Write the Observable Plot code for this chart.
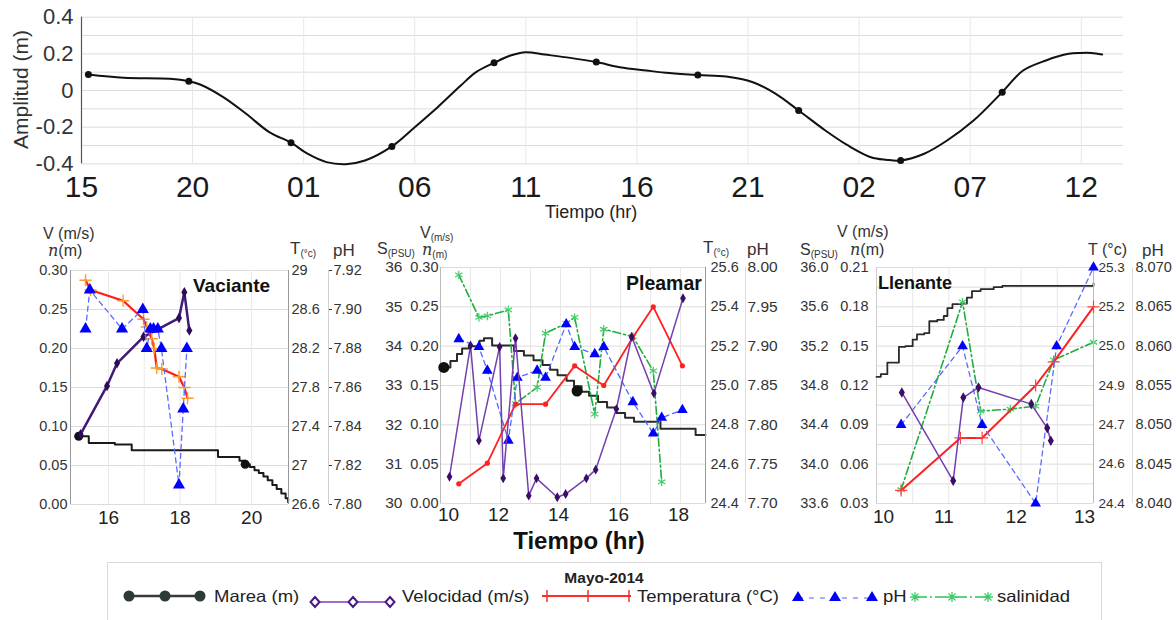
<!DOCTYPE html>
<html><head><meta charset="utf-8">
<script src="https://cdn.jsdelivr.net/npm/d3@7"></script>
<script src="https://cdn.jsdelivr.net/npm/@observablehq/plot@0.6"></script>
<style>
body{margin:0;background:#fff;font-family:"Liberation Sans",Arial,Helvetica,sans-serif;}
#root{position:relative;width:1176px;height:620px;overflow:hidden;background:#fff;}
.t{position:absolute;white-space:nowrap;line-height:1;color:#333;}
.t sub{font-size:10px;vertical-align:-3px;line-height:0;}
.serif{font-family:"DejaVu Serif","Liberation Serif",serif;font-style:italic;}
</style></head><body><div id="root"></div>
<script>
// ---------------- DATA ----------------
// Top panel: tide amplitude (hours since 15:00)
const tideTickHours = [0,5,10,15,20,25,30,35,40,45];
const tideHourLabels = ["15","20","01","06","11","16","21","02","07","12"];
const ampTicks = [-0.4,-0.2,0,0.2,0.4];
const ampGrid = [-0.4,-0.3,-0.2,-0.1,0,0.1,0.2,0.3,0.4];
const tideT = [0.31,1.9,3.97,4.83,5.34,6.38,7.41,8.45,9.43,10.17,11.03,11.9,12.76,13.97,15.0,16.03,17.07,17.76,18.57,19.31,20.0,20.86,22.0,23.17,24.23,25.43,26.46,27.74,29.02,30.22,31.25,32.28,33.48,34.5,35.53,36.22,36.87,37.93,38.96,40.15,41.44,42.38,43.41,44.43,44.95,45.46,45.94];
const tideV = [0.087,0.069,0.064,0.051,0.033,-0.036,-0.127,-0.227,-0.285,-0.345,-0.391,-0.402,-0.382,-0.305,-0.2,-0.091,0.027,0.1,0.151,0.191,0.209,0.196,0.178,0.155,0.127,0.109,0.095,0.084,0.076,0.045,-0.018,-0.109,-0.218,-0.3,-0.364,-0.378,-0.382,-0.345,-0.273,-0.164,-0.009,0.109,0.164,0.2,0.205,0.205,0.196];
const tideDotT = [0.31,4.83,9.43,13.97,18.57,23.17,27.74,32.28,36.87,41.44];
const tideDotV = [0.087,0.051,-0.285,-0.305,0.151,0.155,0.084,-0.109,-0.382,-0.009];

// Panel 1: Vaciante
const vacXTicks = [16,18,20];
const vacXGrid = [16,17,18,19,20];
const vacVTicks = [0,0.05,0.10,0.15,0.20,0.25,0.30];
const vacTTicks = [26.6,27.0,27.4,27.8,28.2,28.6,29.0];
const vacTLabels = ["26.6","27","27.4","27.8","28.2","28.6","29"];
const vacPhTicks = [7.80,7.82,7.84,7.86,7.88,7.90,7.92];
const vacMareaT = [15.17,15.45,16.18,16.65,19.06,19.66,19.82,19.95,20.08,20.2,20.33,20.45,20.58,20.7,20.83,20.95,21.02];
const vacMareaV = [0.0875,0.079,0.077,0.0696,0.061,0.056,0.0516,0.048,0.044,0.0405,0.036,0.031,0.025,0.02,0.014,0.008,0.003];
const vacMareaDotT = [15.17,19.82];
const vacMareaDotV = [0.0875,0.0516];
const vacVelT = [15.22,15.96,16.24,16.98,17.97,18.12,18.26];
const vacVelV = [0.090,0.152,0.181,0.215,0.239,0.272,0.223];
const vacTempT = [15.36,15.5,16.41,16.98,17.07,17.21,17.28,17.35,17.49,17.97,18.12,18.21];
const vacTempV = [28.9,28.8,28.69,28.5,28.42,28.3,28.2,28.0,27.99,27.91,27.8,27.69];
const vacPhT = [15.36,15.48,16.38,16.96,17.07,17.17,17.26,17.38,17.48,17.97,18.09,18.19];
const vacPhV = [7.89,7.91,7.89,7.90,7.88,7.89,7.89,7.89,7.88,7.81,7.849,7.88];

// Panel 2: Pleamar
const pleXTicks = [10,12,14,16,18];
const pleXGrid = [10,11,12,13,14,15,16,17,18];
const pleVTicks = [0,0.05,0.10,0.15,0.20,0.25,0.30];
const pleSTicks = [30,31,32,33,34,35,36];
const pleTTicks = [24.4,24.6,24.8,25.0,25.2,25.4,25.6];
const plePhTicks = [7.70,7.75,7.80,7.85,7.90,7.95,8.00];
const pleMareaT = [10.11,10.33,10.55,10.72,10.95,11.3,11.45,11.72,12.45,12.78,13.1,13.4,13.65,13.9,14.2,14.45,14.7,14.95,15.25,15.55,15.85,16.15,16.45,17.33,18.5,18.83];
const pleMareaV = [0.173,0.181,0.19,0.197,0.2,0.207,0.21,0.201,0.194,0.188,0.182,0.176,0.17,0.163,0.156,0.149,0.142,0.137,0.129,0.122,0.115,0.109,0.104,0.095,0.087,0.087];
const pleMareaDotT = [10.11,14.55];
const pleMareaDotV = [0.173,0.143];
const pleVelT = [10.3,11.0,11.28,11.97,12.09,12.5,12.94,13.2,13.89,14.17,14.86,15.17,15.86,16.37,17.11,18.08];
const pleVelV = [0.034,0.201,0.080,0.199,0.032,0.210,0.010,0.032,0.008,0.012,0.032,0.043,0.12,0.212,0.14,0.261];
const pleTempT = [10.61,11.56,12.5,13.5,14.47,15.44,16.39,17.09,18.06];
const pleTempV = [24.50,24.605,24.905,24.905,25.10,25.0,25.24,25.40,25.10];
const plePhT = [10.61,11.28,11.56,12.26,12.56,13.22,13.5,14.19,14.47,15.14,15.44,16.41,17.09,17.37,18.06];
const plePhV = [7.909,7.899,7.869,7.78,7.86,7.869,7.86,7.928,7.899,7.89,7.899,7.829,7.789,7.809,7.819];
const pleSalT = [10.61,11.28,11.56,12.26,12.5,13.22,13.5,14.19,14.47,15.14,15.44,16.41,17.09,17.37];
const pleSalV = [35.81,34.73,34.77,34.92,32.54,32.95,34.33,34.58,34.73,32.27,34.43,34.24,33.37,30.55];

// Panel 3: Llenante
const lleXTicks = [10,11,12,13];
const lleXGrid = [10,10.5,11,11.5,12,12.5,13];
const lleVTicks = [0.03,0.06,0.09,0.12,0.15,0.18,0.21];
const lleVGrid = [0.03,0.045,0.06,0.075,0.09,0.105,0.12,0.135,0.15,0.165,0.18,0.195,0.21];
const lleSTicks = [33.6,34.0,34.4,34.8,35.2,35.6,36.0];
const lleTTicks = [24.4,24.55,24.7,24.85,25.0,25.15,25.3];
const lleTLabels = ["24.4","24.6","24.7","24.9","25.0","25.2","25.3"];
const llePhTicks = [8.040,8.045,8.050,8.055,8.060,8.065,8.070];
const lleMareaT = [10,10.06,10.15,10.31,10.4,10.5,10.56,10.66,10.73,10.84,10.93,10.98,11.05,11.16,11.25,11.32,11.44,11.62,11.74,13.0];
const lleMareaV = [0.1266,0.1286,0.1375,0.1495,0.15,0.155,0.159,0.16,0.169,0.17,0.173,0.179,0.182,0.1825,0.187,0.192,0.1935,0.195,0.196,0.198];
const lleVelT = [10.35,11.06,11.2,11.41,12.14,12.36,12.41];
const lleVelV = [0.1147,0.0473,0.1108,0.1185,0.1058,0.0875,0.0778];
const lleTempT = [10.34,11.16,11.46,12.2,12.45,13.0];
const lleTempV = [24.45,24.65,24.65,24.85,24.94,25.15];
const llePhT = [10.34,11.19,11.46,12.2,12.49,13.0];
const llePhV = [8.050,8.060,8.050,8.040,8.060,8.070];
const lleSalT = [10.34,11.19,11.44,11.85,12.2,12.45,13.0];
const lleSalV = [33.74,35.65,34.54,34.56,34.59,35.06,35.24];

// ---------------- HELPERS ----------------
const W = 1176, H = 620;
const FONT = '"Liberation Sans", Arial, Helvetica, sans-serif';
const root = document.getElementById("root");
const zip = (T, V) => T.map((t, i) => ({t, v: V[i]}));
const fmtFrom = (ticks, labels) => d => { const i = ticks.findIndex(x => Math.abs(x - d) < 1e-9); return i < 0 ? "" : labels[i]; };
const fix = n => d => d.toFixed(n);

function layer(frame, xDomain, yDomain, marks) {
  const [L, R, T, B] = frame;
  const svg = Plot.plot({
    width: W, height: H,
    marginLeft: L, marginRight: W - R, marginTop: T, marginBottom: H - B,
    x: {domain: xDomain, axis: null},
    y: {domain: yDomain, axis: null},
    style: {background: "transparent", fontFamily: FONT, overflow: "visible"},
    marks
  });
  svg.style.position = "absolute"; svg.style.left = "0px"; svg.style.top = "0px";
  root.appendChild(svg);
}
function txt(html, left, top, css = "") {
  const d = document.createElement("div");
  d.className = "t"; d.innerHTML = html;
  d.style.cssText += `left:${left}px;top:${top}px;${css}`;
  root.appendChild(d);
  return d;
}
const GRID = {stroke: "#dcdcdc", strokeOpacity: 1};
const VGRID = {stroke: "#e8e8e8", strokeOpacity: 1};
const AX = {color: "#333", label: null, fontSize: 14.5};
const XAX = {...AX, anchor: "bottom", tickSize: 0, fontSize: 19, color: "#222"};

// ---------------- TOP PANEL ----------------
const topFrame = [81, 1123, 16.7, 163.3];
const topX = [0, 46.9];
layer(topFrame, topX, [-0.4, 0.4], [
  Plot.gridY(ampGrid, GRID),
  Plot.gridX(tideTickHours, VGRID),
  Plot.ruleX([topX[0]], {stroke: "#555", strokeWidth: 1.2}),
  Plot.axisY(ampTicks, {anchor: "left", tickSize: 0, tickPadding: 8, fontSize: 22, color: "#333", label: null,
    tickFormat: d => d === 0 ? "0" : d.toFixed(1)}),
  Plot.axisX(tideTickHours, {anchor: "bottom", tickSize: 0, tickPadding: 12, fontSize: 30, color: "#1a1a1a", label: null,
    tickFormat: fmtFrom(tideTickHours, tideHourLabels)}),
  Plot.line(zip(tideT, tideV), {x: "t", y: "v", curve: "catmull-rom", stroke: "#111", strokeWidth: 2}),
  Plot.dot(zip(tideDotT, tideDotV), {x: "t", y: "v", r: 3.5, fill: "#111"})
]);
txt("Tiempo (hr)", 545, 203, "font-size:18px;color:#222;");
txt("Amplitud (m)", -80, 79, "font-size:21px;color:#333;width:200px;text-align:center;transform:rotate(-90deg);");

// ---------------- PANEL 1: VACIANTE ----------------
const f1 = [70, 288, 270, 504];
const x1 = [14.94, 21.03];
layer(f1, x1, [0, 0.30], [
  Plot.gridY(vacVTicks, GRID),
  Plot.gridX(vacXGrid, VGRID),
  Plot.ruleX([x1[0]], {stroke: "#999"}),
  Plot.axisY(vacVTicks, {...AX, anchor: "left", tickSize: 0, tickPadding: 3, tickFormat: fix(2)}),
  Plot.axisX(vacXTicks, {...XAX, tickPadding: 6}),
  Plot.line(zip(vacMareaT, vacMareaV), {x: "t", y: "v", curve: "step-after", stroke: "#1a1a1a", strokeWidth: 2}),
  Plot.dot(zip(vacMareaDotT, vacMareaDotV), {x: "t", y: "v", r: 4.5, fill: "#111"}),
  Plot.line(zip(vacVelT, vacVelV), {x: "t", y: "v", stroke: "#3f1a7a", strokeWidth: 2.5}),
  Plot.dot(zip(vacVelT, vacVelV), {x: "t", y: "v", symbol: "diamond", r: 3.2, fill: "#2e0b57"})
]);
layer(f1, x1, [26.6, 29], [
  Plot.ruleX([x1[1]], {stroke: "#999"}),
  Plot.axisY(vacTTicks, {...AX, anchor: "right", tickSize: 0, tickPadding: 3, tickFormat: fmtFrom(vacTTicks, vacTLabels)}),
  Plot.line(zip(vacTempT, vacTempV), {x: "t", y: "v", stroke: "#ff1a1a", strokeWidth: 2.2}),
  Plot.dot(zip(vacTempT, vacTempV), {x: "t", y: "v", symbol: "plus", r: 4, stroke: "#ff9a2a", strokeWidth: 1.4})
]);
layer(f1, x1, [7.80, 7.92], [
  Plot.ruleX([x1[1]], {dx: 40, stroke: "#cfcfcf"}),
  Plot.axisY(vacPhTicks, {...AX, anchor: "right", dx: 40, tickSize: 3, tickPadding: 2, tickFormat: fix(2)}),
  Plot.line(zip(vacPhT, vacPhV), {x: "t", y: "v", stroke: "#5a6cff", strokeWidth: 1.3, strokeDasharray: "5,4"}),
  Plot.dot(zip(vacPhT, vacPhV), {x: "t", y: "v", symbol: "triangle", r: 4.5, fill: "#0000ff"})
]);
txt("V (m/s)", 43, 226, "font-size:16px;");
txt('<span class="serif">n</span>(m)', 48, 243, "font-size:16px;");
txt("T<sub>(°c)</sub>", 290, 240, "font-size:17px;");
txt("pH", 333, 242, "font-size:17px;");
txt("Vaciante", 193, 276, "font-size:19px;font-weight:bold;color:#111;");

// ---------------- PANEL 2: PLEAMAR ----------------
const f2 = [440, 705, 267, 503];
const x2 = [10, 18.83];
layer(f2, x2, [0, 0.30], [
  Plot.gridY(pleVTicks, GRID),
  Plot.gridX(pleXGrid, VGRID),
  Plot.ruleX([x2[0]], {stroke: "#bbb"}),
  Plot.axisY(pleVTicks, {...AX, anchor: "left", tickSize: 0, tickPadding: 2, tickFormat: fix(2)}),
  Plot.axisX(pleXTicks.slice(0, 1), {...XAX, tickPadding: 4, dx: 8}),
  Plot.axisX(pleXTicks.slice(1), {...XAX, tickPadding: 4, dx: -2}),
  Plot.line(zip(pleMareaT, pleMareaV), {x: "t", y: "v", curve: "step-after", stroke: "#2a2a2a", strokeWidth: 2}),
  Plot.dot(zip(pleMareaDotT, pleMareaDotV), {x: "t", y: "v", r: 5.5, fill: "#111"})
]);
layer(f2, x2, [30, 36], [
  Plot.axisY(pleSTicks, {...AX, anchor: "left", dx: -36, tickSize: 0, tickPadding: 2, fontSize: 15.5}),
  Plot.line(zip(pleSalT, pleSalV), {x: "t", y: "v", stroke: "#1fae3f", strokeWidth: 1.6, strokeDasharray: "8,3,2,3"}),
  Plot.dot(zip(pleSalT, pleSalV), {x: "t", y: "v", symbol: "asterisk", r: 4, stroke: "#44cc6a", strokeWidth: 1.2})
]);
layer(f2, x2, [24.4, 25.6], [
  Plot.ruleX([x2[1]], {stroke: "#999"}),
  Plot.axisY(pleTTicks, {...AX, anchor: "right", tickSize: 0, tickPadding: 5, tickFormat: fix(1)}),
  Plot.line(zip(pleTempT, pleTempV), {x: "t", y: "v", stroke: "#ff2020", strokeWidth: 1.8}),
  Plot.dot(zip(pleTempT, pleTempV), {x: "t", y: "v", r: 2.6, fill: "#ff2020"})
]);
layer(f2, x2, [7.70, 8.00], [
  Plot.ruleX([x2[1]], {dx: 40, stroke: "#dcdcdc"}),
  Plot.axisY(plePhTicks, {...AX, anchor: "right", dx: 40, tickSize: 0, tickPadding: 2, fontSize: 15.5, tickFormat: fix(2)}),
  Plot.line(zip(plePhT, plePhV), {x: "t", y: "v", stroke: "#4f6bff", strokeWidth: 1.3, strokeDasharray: "5,4"}),
  Plot.dot(zip(plePhT, plePhV), {x: "t", y: "v", symbol: "triangle", r: 4, fill: "#0000ff"})
]);
layer(f2, x2, [0, 0.30], [
  Plot.line(zip(pleVelT, pleVelV), {x: "t", y: "v", stroke: "#7440b0", strokeWidth: 1.5}),
  Plot.dot(zip(pleVelT, pleVelV), {x: "t", y: "v", symbol: "diamond", r: 3, fill: "#3a0e66"})
]);
txt("V<sub>(m/s)</sub>", 420, 225, "font-size:16px;");
txt("S<sub>(PSU)</sub>", 377, 241, "font-size:16px;");
txt('<span class="serif">n</span><sub>(m)</sub>', 422, 242, "font-size:16px;");
txt("T<sub>(°c)</sub>", 703, 239, "font-size:17px;");
txt("pH", 747, 241, "font-size:17px;");
txt("Pleamar", 626, 274, "font-size:19.5px;font-weight:bold;color:#111;");
txt("Tiempo (hr)", 429, 529, "font-size:24px;font-weight:bold;color:#111;width:300px;text-align:center;");

// ---------------- PANEL 3: LLENANTE ----------------
const f3 = [876, 1093, 267, 503];
const x3 = [10, 13];
layer(f3, x3, [0.03, 0.21], [
  Plot.gridY(lleVGrid, GRID),
  Plot.gridX(lleXGrid, VGRID),
  Plot.ruleX([x3[0]], {stroke: "#ccc"}),
  Plot.axisY(lleVTicks, {...AX, anchor: "left", tickSize: 0, tickPadding: 8, tickFormat: fix(2)}),
  Plot.axisX(lleXTicks.slice(0, 1), {...XAX, tickPadding: 6, dx: 7}),
  Plot.axisX(lleXTicks.slice(1, 3), {...XAX, tickPadding: 6, dx: -5}),
  Plot.axisX(lleXTicks.slice(3), {...XAX, tickPadding: 6, dx: -9}),
  Plot.line(zip(lleMareaT, lleMareaV), {x: "t", y: "v", curve: "step-after", stroke: "#2a2a2a", strokeWidth: 1.8})
]);
layer(f3, x3, [33.6, 36.0], [
  Plot.axisY(lleSTicks, {...AX, anchor: "left", dx: -40, tickSize: 0, tickPadding: 8, tickFormat: fix(1)}),
  Plot.line(zip(lleSalT, lleSalV), {x: "t", y: "v", stroke: "#1fae3f", strokeWidth: 1.6, strokeDasharray: "8,3,2,3"}),
  Plot.dot(zip(lleSalT, lleSalV), {x: "t", y: "v", symbol: "asterisk", r: 4, stroke: "#44cc6a", strokeWidth: 1.2})
]);
layer(f3, x3, [24.4, 25.3], [
  Plot.ruleX([x3[1]], {stroke: "#bbb"}),
  Plot.axisY(lleTTicks, {...AX, anchor: "right", tickSize: 0, tickPadding: 5, fontSize: 13.5, tickFormat: fmtFrom(lleTTicks, lleTLabels)}),
  Plot.line(zip(lleTempT, lleTempV), {x: "t", y: "v", stroke: "#ff2020", strokeWidth: 2}),
  Plot.dot(zip(lleTempT, lleTempV), {x: "t", y: "v", symbol: "plus", r: 4, stroke: "#ff4040", strokeWidth: 1.2})
]);
layer(f3, x3, [8.040, 8.070], [
  Plot.ruleX([x3[1]], {dx: 39, stroke: "#dcdcdc"}),
  Plot.axisY(llePhTicks, {...AX, anchor: "right", dx: 39, tickSize: 0, tickPadding: 3, tickFormat: fix(3)}),
  Plot.line(zip(llePhT, llePhV), {x: "t", y: "v", stroke: "#5a6cff", strokeWidth: 1.3, strokeDasharray: "5,4"}),
  Plot.dot(zip(llePhT, llePhV), {x: "t", y: "v", symbol: "triangle", r: 4, fill: "#0000ff"})
]);
layer(f3, x3, [0.03, 0.21], [
  Plot.line(zip(lleVelT, lleVelV), {x: "t", y: "v", stroke: "#7440b0", strokeWidth: 1.5}),
  Plot.dot(zip(lleVelT, lleVelV), {x: "t", y: "v", symbol: "diamond", r: 3.2, fill: "#3a0e66"})
]);
txt("V (m/s)", 837, 224, "font-size:16px;");
txt("S<sub>(PSU)</sub>", 800, 242, "font-size:16px;");
txt('<span class="serif">n</span>(m)', 850, 242, "font-size:16px;");
txt("T (°c)", 1088, 242, "font-size:16px;");
txt("pH", 1142, 242, "font-size:17px;");
txt("Llenante", 878, 274, "font-size:18px;font-weight:bold;color:#111;");

// ---------------- LEGEND ----------------
const box = document.createElement("div");
box.style.cssText = "position:absolute;left:107px;top:562px;width:993px;height:80px;border:1px solid #d9d9d9;";
root.appendChild(box);
txt("Mayo-2014", 454, 570, "font-size:15.5px;font-weight:bold;color:#222;width:300px;text-align:center;");
const legendSwatches = `
<svg width="1176" height="620" style="position:absolute;left:0;top:0;pointer-events:none">
  <line x1="124" y1="596" x2="204" y2="596" stroke="#3a3a3a" stroke-width="2.5"/>
  <circle cx="129" cy="596" r="5.5" fill="#2d3b34"/><circle cx="165" cy="596" r="5.5" fill="#2d3b34"/><circle cx="200" cy="596" r="5.5" fill="#2d3b34"/>
  <line x1="315" y1="602" x2="390" y2="602" stroke="#9a6fd0" stroke-width="2"/>
  <path d="M315,597 L319.5,602 L315,607 L310.5,602 Z M353,597 L357.5,602 L353,607 L348.5,602 Z M390,597 L394.5,602 L390,607 L385.5,602 Z" fill="#fff" stroke="#4b1a80" stroke-width="2"/>
  <line x1="542" y1="596" x2="631" y2="596" stroke="#ff2a2a" stroke-width="2"/>
  <path d="M547,590 V602 M588,590 V602 M629,590 V602" stroke="#ff2a2a" stroke-width="1.5"/>
  <line x1="798" y1="598" x2="872" y2="598" stroke="#8a96ff" stroke-width="1.5" stroke-dasharray="5,6"/>
  <path d="M798,591 L804,601 L792,601 Z M835,591 L841,601 L829,601 Z M872,591 L878,601 L866,601 Z" fill="#0000ff"/>
  <line x1="915" y1="597" x2="988" y2="597" stroke="#30c060" stroke-width="1.5" stroke-dasharray="12,3,2,3"/>
  <path d="M910,597 H920 M915,592 V602 M911.5,593.5 L918.5,600.5 M918.5,593.5 L911.5,600.5 M947,597 H957 M952,592 V602 M948.5,593.5 L955.5,600.5 M955.5,593.5 L948.5,600.5 M983,597 H993 M988,592 V602 M984.5,593.5 L991.5,600.5 M991.5,593.5 L984.5,600.5" stroke="#44cc6a" stroke-width="1.3"/>
</svg>`;
root.insertAdjacentHTML("beforeend", legendSwatches);
const LG = "font-size:16.5px;color:#222;transform:scaleX(1.12);transform-origin:left center;";
txt("Marea (m)", 214, 588, LG);
txt("Velocidad (m/s)", 402, 588, LG);
txt("Temperatura (°C)", 637, 588, LG);
txt("pH", 883, 588, LG);
txt("salinidad", 997, 588, LG);
</script></body></html>
